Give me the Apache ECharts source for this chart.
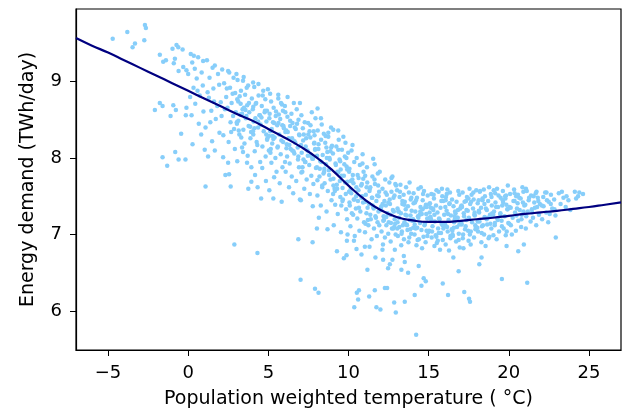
<!DOCTYPE html>
<html>
<head>
<meta charset="utf-8">
<script src="https://cdn.jsdelivr.net/npm/echarts@6/dist/echarts.min.js"></script>
<style>
  html, body { margin: 0; padding: 0; background: #fff; }
  #chart { width: 622px; height: 416px; }
</style>
</head>
<body>
<div id="chart"></div>
<script>
// [temperature °C, demand TWh/day]
const coldDays = [
  [-4.71,9.56],[-3.80,9.65],[-2.70,9.74],[-2.64,9.70],[-3.32,9.50],[-3.47,9.45],[-2.74,9.54],
  [-1.77,9.35],[-1.56,9.26],[-1.39,9.28],[-0.98,9.43],[-0.73,9.48],[-0.62,9.45],[-0.35,9.42],[-0.83,9.30],[-0.90,9.24],[-0.60,9.14],[-0.31,9.19],
  [0.16,9.36],[0.35,9.34],[0.25,9.25],[-0.11,9.15],[0.0,9.10],[0.41,9.17],
  [-2.08,8.63],[-1.77,8.72],[-1.60,8.68],[-0.93,8.69],[-0.77,8.63],[-1.10,8.55],[-0.15,8.56],[-0.11,8.66],[0.21,8.56],[-0.44,8.32],[0.27,8.18],
  [-1.60,8.01],[-1.31,7.90],[-0.81,8.08],[-0.60,7.98],[-0.17,7.98],
  [1.03,8.11],[1.24,8.02],[1.66,8.10],[2.18,8.01],[2.49,7.94],[2.32,7.78],[2.55,7.79],
  [0.93,9.27],[1.66,9.21],[2.49,9.14],[1.08,7.63],[2.65,7.63],[2.88,6.87],
  [0.62,9.32],[0.84,9.12],[0.53,9.04],[0.91,8.95],[0.72,8.82],[0.44,8.71],[0.95,8.61],[0.66,8.45],[0.81,8.31],[0.33,8.92],[0.58,8.88],[0.12,8.80],
  [1.17,9.28],[1.33,9.05],[1.52,9.18],[1.86,9.10],[1.21,8.86],[1.61,8.74],[1.93,8.96],[1.44,8.62],[1.72,8.51],[1.08,8.40],[1.95,8.33],[1.49,8.22],[1.81,8.68],[1.29,8.79],[1.57,8.91],[1.38,8.47],
  [2.12,9.16],[2.56,9.12],[2.83,9.05],[2.24,8.98],[2.61,8.92],[2.93,8.85],[2.37,8.80],[2.71,8.72],[2.45,8.66],[2.97,8.60],[2.08,8.55],[2.64,8.47],[2.86,8.38],[2.19,8.30],[2.52,8.21],[2.91,8.12],[2.77,8.84],[2.41,8.91],[2.03,8.73],[2.80,8.55],[2.29,8.64],[2.68,8.34]
];

const coolDays = [
  [3.01,9.10],[3.42,9.01],[3.42,8.08],[3.75,7.60],[3.94,7.69],[3.67,7.94],[4.05,8.99],[4.38,8.97],[4.32,6.76],[4.55,7.47],[5.11,8.84],[5.62,8.83],[5.31,7.47],[5.83,7.43],[6.20,8.80],[6.87,6.94],[6.97,8.72],[7.01,6.41],[7.76,6.90],[7.91,6.29],[8.07,8.65],[8.28,8.52],[8.74,8.33],[8.03,7.08],[8.69,7.07],[8.13,6.24],
  [3.08,9.02],[3.46,9.06],[3.74,8.95],[3.29,8.88],[3.55,8.83],[3.97,8.78],[3.12,8.74],[3.68,8.69],[3.39,8.64],[3.81,8.60],[3.24,8.57],[3.59,8.52],[3.03,8.47],[3.77,8.42],[3.44,8.37],[3.19,8.31],[3.88,8.26],[3.51,8.19],[3.36,8.14],[3.71,8.03],[3.06,7.96],[3.94,7.88],[3.27,8.71],[3.63,8.55],[3.15,8.36],
  [4.97,8.90],[4.12,8.93],[4.68,8.88],[4.39,8.82],[4.81,8.77],[4.24,8.72],[4.59,8.68],[4.03,8.64],[4.77,8.60],[4.44,8.56],[4.19,8.52],[4.88,8.48],[4.51,8.44],[4.36,8.40],[4.71,8.35],[4.06,8.31],[4.94,8.26],[4.27,8.21],[4.63,8.15],[4.15,8.09],[4.83,8.02],[4.49,7.95],[4.62,7.87],[4.17,7.78],[4.85,7.70],[4.33,7.62],[4.91,8.62],[4.08,8.48],
  [5.62,8.78],[5.17,8.74],[5.85,8.70],[5.33,8.66],[5.91,8.62],[5.08,8.58],[5.46,8.55],[5.74,8.51],[5.29,8.47],[5.55,8.43],[5.97,8.39],[5.12,8.35],[5.68,8.31],[5.39,8.27],[5.81,8.23],[5.24,8.19],[5.59,8.15],[5.03,8.10],[5.77,8.05],[5.44,8.00],[5.19,7.94],[5.88,7.88],[5.51,7.82],[5.36,7.75],[5.71,7.67],[5.06,7.58],[5.94,8.42],[5.27,8.29],[5.63,8.46],[5.15,8.12],
  [6.59,8.72],[6.03,8.68],[6.77,8.64],[6.44,8.58],[6.19,8.54],[6.88,8.50],[6.51,8.46],[6.36,8.42],[6.71,8.38],[6.06,8.34],[6.94,8.30],[6.27,8.26],[6.63,8.22],[6.15,8.18],[6.83,8.14],[6.49,8.10],[6.62,8.06],[6.17,8.02],[6.85,7.98],[6.33,7.93],[6.91,7.88],[6.08,7.82],[6.46,7.76],[6.74,7.70],[6.29,7.62],[6.55,7.54],[6.97,7.46],[6.12,8.36],[6.68,8.20],[6.39,8.12],
  [7.71,8.60],[7.06,8.56],[7.94,8.52],[7.27,8.47],[7.63,8.43],[7.15,8.39],[7.83,8.35],[7.49,8.31],[7.62,8.27],[7.17,8.23],[7.85,8.19],[7.33,8.15],[7.91,8.11],[7.08,8.07],[7.46,8.03],[7.74,7.99],[7.29,7.95],[7.55,7.91],[7.97,7.87],[7.12,7.82],[7.68,7.77],[7.39,7.72],[7.81,7.66],[7.24,7.60],[7.59,7.53],[7.03,7.45],[7.77,7.37],[7.44,8.10],[7.19,7.98],[7.88,8.30],
  [8.33,8.44],[8.91,8.40],[8.08,8.36],[8.46,8.32],[8.74,8.28],[8.29,8.24],[8.55,8.20],[8.97,8.16],[8.12,8.12],[8.68,8.08],[8.39,8.04],[8.81,8.00],[8.24,7.96],[8.59,7.92],[8.03,7.88],[8.77,7.84],[8.44,7.80],[8.19,7.76],[8.88,7.72],[8.51,7.67],[8.36,7.62],[8.71,7.57],[8.06,7.51],[8.94,7.45],[8.27,7.38],[8.63,7.30],[8.15,7.22],[8.83,7.98],[8.49,7.86],[8.62,8.14]
];

const mildDays = [
  [9.05,8.37],[9.36,8.36],[9.98,8.07],[9.28,6.78],[9.71,6.69],[9.88,6.73],[9.53,7.03],[9.94,7.00],[9.90,6.92],[10.25,8.17],[10.34,6.92],[10.50,6.81],[10.81,6.74],[10.65,6.27],[10.52,6.24],[10.60,6.15],[10.36,6.05],
  [11.54,7.99],[11.95,7.82],[11.31,6.84],[11.18,6.54],[11.68,6.70],[11.29,6.19],[11.64,6.27],[11.74,6.05],[11.99,6.02],[11.02,6.84],
  [12.68,7.74],[12.27,6.30],[12.41,6.30],[12.16,6.67],[12.47,6.56],[12.58,6.61],[12.89,6.80],[12.74,6.67],[12.85,6.11],[12.95,5.98],[12.12,6.80],
  [13.30,6.54],[13.51,6.64],[13.72,6.50],[13.45,6.72],[13.51,6.12],[14.13,6.21],[14.22,5.69],[14.38,6.59],[14.55,6.33],[14.69,6.43],[14.82,6.39],
  [9.68,8.28],[9.39,8.24],[9.81,8.20],[9.24,8.15],[9.59,8.11],[9.03,8.06],[9.77,8.02],[9.44,7.98],[9.19,7.93],[9.88,7.89],[9.51,7.85],[9.36,7.81],[9.71,7.77],[9.06,7.73],[9.94,7.69],[9.27,7.65],[9.63,7.61],[9.15,7.57],[9.83,7.53],[9.49,7.49],[9.62,7.44],[9.17,7.39],[9.85,7.33],[9.33,7.27],[9.91,7.20],[9.08,7.12],[9.46,7.70],[9.74,7.92],[9.29,7.60],[9.55,7.38],
  [10.19,8.10],[10.88,8.05],[10.51,8.00],[10.36,7.95],[10.71,7.91],[10.06,7.86],[10.94,7.82],[10.27,7.78],[10.63,7.74],[10.15,7.70],[10.83,7.66],[10.49,7.62],[10.62,7.58],[10.17,7.54],[10.85,7.50],[10.33,7.46],[10.91,7.42],[10.08,7.38],[10.46,7.34],[10.74,7.30],[10.29,7.26],[10.55,7.21],[10.97,7.16],[10.12,7.11],[10.68,7.05],[10.39,6.98],[10.81,7.48],[10.24,7.72],[10.59,7.44],[10.03,7.56],
  [11.63,7.92],[11.15,7.88],[11.83,7.80],[11.49,7.76],[11.62,7.72],[11.17,7.68],[11.85,7.64],[11.33,7.60],[11.91,7.56],[11.08,7.52],[11.46,7.48],[11.74,7.44],[11.29,7.40],[11.55,7.36],[11.97,7.32],[11.12,7.28],[11.68,7.24],[11.39,7.20],[11.81,7.16],[11.24,7.12],[11.59,7.08],[11.03,7.03],[11.77,6.98],[11.44,6.94],[11.19,7.35],[11.88,7.50],[11.51,7.38],[11.36,7.62],[11.71,7.22],[11.06,7.14],
  [12.74,7.76],[12.29,7.72],[12.55,7.68],[12.97,7.64],[12.12,7.60],[12.68,7.56],[12.39,7.52],[12.81,7.48],[12.24,7.44],[12.59,7.40],[12.03,7.36],[12.77,7.32],[12.44,7.28],[12.19,7.24],[12.88,7.20],[12.51,7.16],[12.36,7.12],[12.71,7.08],[12.06,7.04],[12.94,7.00],[12.27,6.96],[12.63,6.91],[12.15,6.87],[12.83,7.30],[12.49,7.42],[12.62,7.26],[12.17,7.18],[12.85,7.10],[12.33,7.38],[12.91,7.14],
  [13.81,7.68],[13.24,7.65],[13.59,7.62],[13.03,7.58],[13.77,7.55],[13.44,7.52],[13.19,7.49],[13.88,7.46],[13.51,7.43],[13.36,7.40],[13.71,7.37],[13.06,7.34],[13.94,7.31],[13.27,7.28],[13.63,7.25],[13.15,7.22],[13.83,7.19],[13.49,7.16],[13.62,7.13],[13.17,7.10],[13.85,7.07],[13.33,7.04],[13.91,7.01],[13.08,6.98],[13.46,6.94],[13.74,6.90],[13.29,6.86],[13.55,7.26],[13.97,7.18],[13.12,7.30],[13.68,7.06],[13.39,7.12],
  [14.51,7.62],[14.36,7.60],[14.71,7.57],[14.06,7.54],[14.94,7.51],[14.27,7.48],[14.63,7.45],[14.15,7.42],[14.83,7.39],[14.49,7.36],[14.62,7.33],[14.17,7.30],[14.85,7.27],[14.33,7.24],[14.91,7.21],[14.08,7.18],[14.46,7.15],[14.74,7.12],[14.29,7.09],[14.55,7.06],[14.97,7.03],[14.12,7.00],[14.68,6.97],[14.39,6.94],[14.81,6.90],[14.24,6.86],[14.59,6.82],[14.03,7.20],[14.77,7.14],[14.44,7.26],[14.19,7.08],[14.88,7.36]
];

const warmDays = [
  [15.88,6.36],[16.21,6.21],[16.87,6.52],[16.54,6.70],[17.22,6.25],[17.52,6.16],[17.58,6.12],[18.16,6.61],[18.30,6.70],[19.57,6.42],[19.86,6.85],[20.59,6.78],[20.94,6.87],[21.15,6.37],[21.07,7.60],[21.73,7.56],[22.35,7.55],[22.93,6.96],[23.60,7.50],[24.63,7.53],[24.12,7.56],[24.32,7.50],[24.40,7.55],[24.20,7.47],
  [15.83,7.60],[15.49,7.58],[15.62,7.56],[15.17,7.53],[15.85,7.50],[15.33,7.47],[15.91,7.44],[15.08,7.41],[15.46,7.38],[15.74,7.35],[15.29,7.32],[15.55,7.29],[15.97,7.26],[15.12,7.23],[15.68,7.20],[15.39,7.17],[15.81,7.14],[15.24,7.11],[15.59,7.08],[15.03,7.05],[15.77,7.02],[15.44,6.99],[15.19,6.96],[15.88,6.93],[15.51,6.89],[15.36,6.85],[15.71,6.80],[15.06,7.22],[15.94,7.12],[15.27,7.34],[15.63,7.02],[15.15,7.20],
  [16.17,7.59],[16.85,7.57],[16.33,7.55],[16.91,7.52],[16.08,7.49],[16.46,7.46],[16.74,7.43],[16.29,7.40],[16.55,7.37],[16.97,7.34],[16.12,7.31],[16.68,7.28],[16.39,7.25],[16.81,7.22],[16.24,7.19],[16.59,7.16],[16.03,7.13],[16.77,7.10],[16.44,7.07],[16.19,7.04],[16.88,7.01],[16.51,6.98],[16.36,6.95],[16.71,6.91],[16.06,6.87],[16.94,6.83],[16.27,6.79],[16.63,7.20],[16.15,7.10],[16.83,7.32],[16.49,7.00],[16.62,7.24],
  [17.55,7.60],[17.97,7.58],[17.12,7.55],[17.68,7.52],[17.39,7.49],[17.81,7.46],[17.24,7.43],[17.59,7.40],[17.03,7.37],[17.77,7.34],[17.44,7.31],[17.19,7.28],[17.88,7.25],[17.51,7.22],[17.36,7.19],[17.71,7.16],[17.06,7.13],[17.94,7.10],[17.27,7.07],[17.63,7.04],[17.15,7.00],[17.83,6.96],[17.49,6.92],[17.62,6.87],[17.17,6.82],[17.85,7.26],[17.33,7.44],[17.91,7.12],[17.08,7.36],[17.46,7.05],
  [18.77,7.62],[18.44,7.59],[18.19,7.56],[18.88,7.53],[18.51,7.50],[18.36,7.47],[18.71,7.44],[18.06,7.41],[18.94,7.38],[18.27,7.35],[18.63,7.32],[18.15,7.29],[18.83,7.26],[18.49,7.23],[18.62,7.20],[18.17,7.17],[18.85,7.14],[18.33,7.11],[18.91,7.08],[18.08,7.04],[18.46,7.00],[18.74,6.95],[18.29,6.90],[18.55,6.85],[18.97,7.28],[18.12,7.45],[18.68,7.22],[18.39,7.12],
  [19.94,7.64],[19.27,7.60],[19.63,7.57],[19.15,7.54],[19.83,7.51],[19.49,7.48],[19.62,7.45],[19.17,7.42],[19.85,7.39],[19.33,7.36],[19.91,7.33],[19.08,7.30],[19.46,7.27],[19.74,7.24],[19.29,7.21],[19.55,7.18],[19.97,7.15],[19.12,7.12],[19.68,7.08],[19.39,7.04],[19.81,6.99],[19.24,6.94],[19.59,7.38],[19.03,7.26],[19.77,7.50],
  [20.85,7.62],[20.33,7.59],[20.91,7.56],[20.08,7.53],[20.46,7.50],[20.74,7.47],[20.29,7.44],[20.55,7.41],[20.97,7.38],[20.12,7.35],[20.68,7.32],[20.39,7.29],[20.81,7.26],[20.24,7.22],[20.59,7.18],[20.03,7.14],[20.77,7.10],[20.44,7.05],[20.19,7.00],[20.88,7.42],[20.51,7.34],[20.36,7.54],
  [21.12,7.57],[21.68,7.54],[21.39,7.51],[21.81,7.48],[21.24,7.45],[21.59,7.42],[21.03,7.39],[21.77,7.36],[21.44,7.33],[21.19,7.30],[21.88,7.26],[21.51,7.22],[21.36,7.17],[21.71,7.12],[21.06,7.08],[21.94,7.40],
  [22.27,7.55],[22.63,7.52],[22.15,7.49],[22.83,7.46],[22.49,7.43],[22.62,7.40],[22.17,7.37],[22.85,7.33],[22.33,7.29],[22.91,7.25],[22.08,7.20],[22.46,7.16],
  [23.12,7.54],[23.41,7.48],[23.72,7.45],[23.23,7.40],[23.55,7.36],[23.84,7.32],[23.31,7.56]
];

// extra points in the densest part of the cloud
const denseCore = [
  [3.21,8.81],[3.57,8.63],[3.04,8.45],[3.79,8.72],[3.36,8.58],[3.92,8.34],[3.13,8.49],[3.65,8.92],[3.48,8.66],[3.87,8.41],[3.31,8.27],[3.06,8.77],
  [4.21,8.71],[4.57,8.53],[4.04,8.35],[4.79,8.62],[4.36,8.48],[4.92,8.24],[4.13,8.39],[4.65,8.82],[4.48,8.56],[4.87,8.31],[4.31,8.17],[4.06,8.67],
  [5.48,8.61],[5.87,8.43],[5.31,8.25],[5.06,8.52],[5.21,8.38],[5.57,8.14],[5.04,8.29],[5.79,8.72],[5.36,8.46],[5.92,8.21],[5.13,8.07],[5.65,8.57],
  [6.36,8.49],[6.92,8.31],[6.13,8.13],[6.65,8.40],[6.48,8.26],[6.87,8.02],[6.31,8.17],[6.06,8.60],[6.21,8.34],[6.57,8.09],[6.04,7.95],[6.79,8.45],
  [7.57,8.35],[7.04,8.17],[7.79,7.99],[7.36,8.26],[7.92,8.12],[7.13,7.88],[7.65,8.03],[7.48,8.46],[7.87,8.20],[7.31,7.95],[7.06,7.81],[7.21,8.31],
  [8.13,8.18],[8.65,8.00],[8.48,7.82],[8.87,8.09],[8.31,7.95],[8.06,7.71],[8.21,7.86],[8.57,8.29],[8.04,8.03],[8.79,7.78],[8.36,7.64],[8.92,8.14],
  [9.87,8.00],[9.31,7.82],[9.06,7.64],[9.21,7.91],[9.57,7.77],[9.04,7.53],[9.79,7.68],[9.36,8.11],[9.92,7.85],[9.13,7.60],[9.65,7.46],[9.48,7.96],
  [10.04,7.82],[10.79,7.64],[10.36,7.46],[10.92,7.73],[10.13,7.59],[10.65,7.35],[10.48,7.50],[10.87,7.93],[10.31,7.67],[10.06,7.42],[10.21,7.28],[10.57,7.78],
  [11.65,7.66],[11.48,7.48],[11.87,7.30],[11.31,7.57],[11.06,7.43],[11.21,7.19],[11.57,7.34],[11.04,7.77],[11.79,7.51],[11.36,7.26],[11.92,7.12],[11.13,7.62],
  [12.31,7.55],[12.06,7.37],[12.21,7.19],[12.57,7.46],[12.04,7.32],[12.79,7.08],[12.36,7.23],[12.92,7.66],[12.13,7.40],[12.65,7.15],[12.48,7.01],[12.87,7.51],
  [13.92,7.48],[13.13,7.30],[13.65,7.12],[13.48,7.39],[13.87,7.25],[13.31,7.01],[13.06,7.16],[13.21,7.56],[13.57,7.33],[13.04,7.08],[13.79,6.96],[13.36,7.44],
  [14.21,7.45],[14.57,7.27],[14.04,7.09],[14.79,7.36],[14.36,7.22],[14.92,6.98],[14.13,7.13],[14.65,7.53],[14.48,7.30],[14.87,7.05],[14.31,6.93],[14.06,7.41],
  [15.79,7.44],[15.36,7.26],[15.92,7.08],[15.13,7.35],[15.65,7.21],[15.48,6.97],[15.87,7.12],[15.31,7.52],[15.06,7.29],[15.21,7.04],[15.57,6.92],[15.04,7.40],
  [16.06,7.45],[16.21,7.27],[16.57,7.09],[16.04,7.36],[16.79,7.22],[16.36,6.98],[16.92,7.13],[16.13,7.53],[16.65,7.30],[16.48,7.05],[16.87,6.93],[16.31,7.41],
  [17.48,7.47],[17.87,7.29],[17.31,7.11],[17.06,7.38],[17.21,7.24],[17.57,7.00],[17.04,7.15],[17.79,7.55],[17.36,7.32],[17.92,7.07],[17.13,6.95],[17.65,7.43],
  [18.92,7.49],[18.13,7.31],[18.65,7.13],[18.48,7.40],[18.87,7.26],[18.31,7.02],[18.06,7.17],[18.21,7.57],[18.57,7.34],[18.04,7.09],[18.79,6.97],[18.36,7.45],
  [19.36,7.51],[19.92,7.33],[19.13,7.15],[19.65,7.42],[19.48,7.28],[19.87,7.04],[19.31,7.19],[19.06,7.58],[19.21,7.36],[19.57,7.11],[19.04,6.99],[19.79,7.47],
  [20.57,7.52],[20.04,7.36],[20.79,7.20],[20.36,7.44],[20.92,7.30],[20.13,7.12],[20.65,7.48],[20.48,7.25],
  [21.27,7.48],[21.63,7.35],[21.09,7.24],[21.84,7.44],[21.46,7.29],[21.55,7.50],
  [22.38,7.45],[22.71,7.34],[22.06,7.38],[22.55,7.27]
];

// fitted curve, read at each whole degree
const fitTemp = [-7,-6,-5,-4,-3,-2,-1,0,1,2,3,4,5,6,7,8,9,10,11,12,13,14,15,16,17,18,19,20,21,22,23,24,25,26,27];
const fitDemand = [9.57,9.47,9.38,9.28,9.18,9.08,8.98,8.88,8.78,8.68,8.58,8.49,8.38,8.27,8.15,8.01,7.84,7.64,7.46,7.32,7.23,7.185,7.165,7.165,7.18,7.20,7.22,7.245,7.27,7.29,7.31,7.335,7.36,7.39,7.42];

const xTicks = [-5, 0, 5, 10, 15, 20, 25];
const yTicks = [6, 7, 8, 9];

const chart = echarts.init(document.getElementById('chart'));
const font = 'DejaVu Sans';
const minus = v => String(v).replace('-', '\u2212');

chart.setOption({
  animation: false,
  grid: {
    left: 76, right: 1, top: 9, bottom: 66,
    show: true, borderColor: '#000', borderWidth: 1.2
  },
  xAxis: {
    type: 'value', min: -7, max: 27,
    name: 'Population weighted temperature ( °C)',
    nameLocation: 'middle', nameGap: 40,
    nameTextStyle: { fontFamily: font, fontSize: 19, color: '#000' },
    axisLine: { show: true, onZero: false, lineStyle: { color: '#000', width: 1.2 } },
    axisTick: { show: true, length: 6, customValues: xTicks, lineStyle: { color: '#000' } },
    axisLabel: { customValues: xTicks, margin: 14, fontFamily: font, fontSize: 18, color: '#000', formatter: minus },
    splitLine: { show: false }
  },
  yAxis: {
    type: 'value', min: 5.49, max: 9.95,
    name: 'Energy demand (TWh/day)',
    nameLocation: 'middle', nameGap: 38,
    nameTextStyle: { fontFamily: font, fontSize: 19, color: '#000' },
    axisLine: { show: true, onZero: false, lineStyle: { color: '#000', width: 1.2 } },
    axisTick: { show: true, length: 6, customValues: yTicks, lineStyle: { color: '#000' } },
    axisLabel: { customValues: yTicks, margin: 14, fontFamily: font, fontSize: 18, color: '#000' },
    splitLine: { show: false }
  },
  series: [
    {
      type: 'scatter',
      data: coldDays.concat(coolDays, mildDays, warmDays, denseCore),
      symbolSize: 4.5,
      itemStyle: { color: '#87cefa', opacity: 1 },
      silent: true
    },
    {
      type: 'line',
      data: fitTemp.map((t, i) => [t, fitDemand[i]]),
      smooth: true,
      showSymbol: false,
      lineStyle: { color: '#000080', width: 2.2 },
      z: 3,
      silent: true
    }
  ]
});
</script>
</body>
</html>
